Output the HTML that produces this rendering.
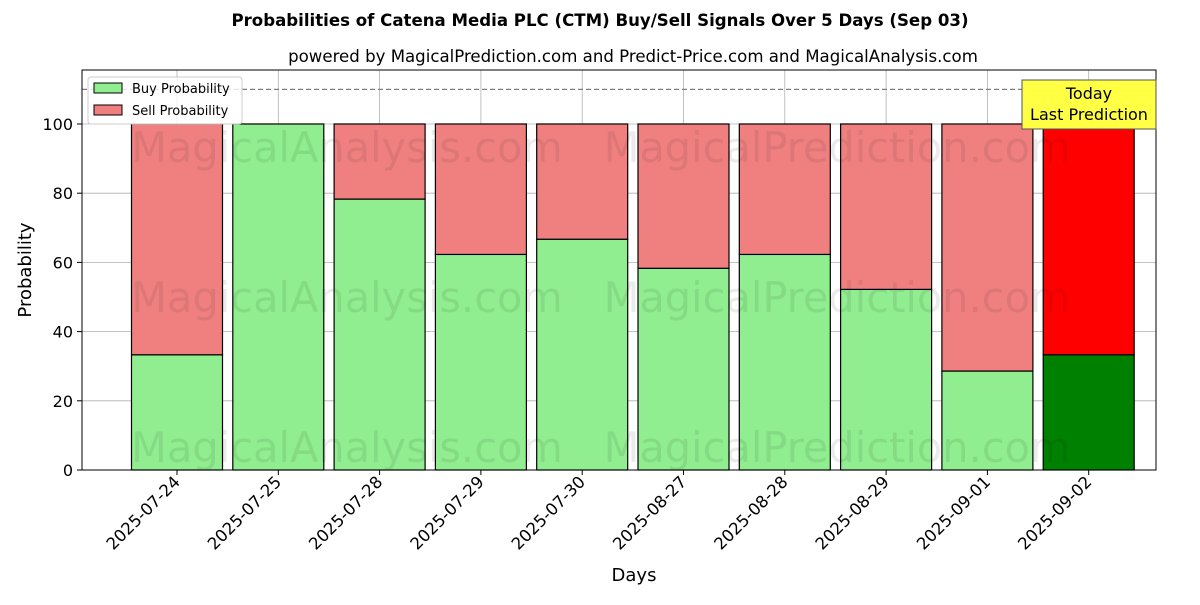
<!DOCTYPE html>
<html><head><meta charset="utf-8"><style>
body{margin:0;background:#fff;font-family:"Liberation Sans","DejaVu Sans",sans-serif}
</style></head><body>
<svg id="c" width="1200" height="600" xmlns="http://www.w3.org/2000/svg" font-family="DejaVu Sans, Liberation Sans, sans-serif">
<text x="600" y="26" text-anchor="middle" font-size="16.6" font-weight="bold">Probabilities of Catena Media PLC (CTM) Buy/Sell Signals Over 5 Days (Sep 03)</text>
<text x="633" y="62" text-anchor="middle" font-size="16.6">powered by MagicalPrediction.com and Predict-Price.com and MagicalAnalysis.com</text>
<g id="grid"></g><g id="bars"></g>
<g font-size="41.5" fill="#000" fill-opacity="0.08">
<text x="347" y="162" text-anchor="middle">MagicalAnalysis.com</text>
<text x="837" y="162" text-anchor="middle">MagicalPrediction.com</text>
<text x="347" y="312" text-anchor="middle">MagicalAnalysis.com</text>
<text x="837" y="312" text-anchor="middle">MagicalPrediction.com</text>
<text x="347" y="462" text-anchor="middle">MagicalAnalysis.com</text>
<text x="837" y="462" text-anchor="middle">MagicalPrediction.com</text>
</g>
<g id="axes"></g>
<text x="634" y="581" text-anchor="middle" font-size="18">Days</text>
<text transform="translate(31,270) rotate(-90)" text-anchor="middle" font-size="18">Probability</text>
<g>
<rect x="88" y="77" width="154" height="47" fill="#fff" fill-opacity="0.8" stroke="#ccc" rx="3"/>
<rect x="94" y="83" width="28" height="10" fill="#90ee90" stroke="#000"/>
<text x="132" y="93" font-size="13">Buy Probability</text>
<rect x="94" y="105" width="28" height="10" fill="#f08080" stroke="#000"/>
<text x="132" y="115" font-size="13">Sell Probability</text>
</g>
<g>
<rect x="1022" y="80" width="134" height="49" fill="#ffff44" stroke="#555"/>
<text x="1089" y="99" text-anchor="middle" font-size="16">Today</text>
<text x="1089" y="120" text-anchor="middle" font-size="16">Last Prediction</text>
</g>
</svg>
<script>
const categories=["2025-07-24","2025-07-25","2025-07-28","2025-07-29","2025-07-30","2025-08-27","2025-08-28","2025-08-29","2025-09-01","2025-09-02"];
const buyValues=[33.3,100,78.3,62.3,66.7,58.3,62.3,52.2,28.6,33.3];
const sellValues=[66.7,0,21.7,37.7,33.3,41.7,37.7,47.8,71.4,66.7];
const yTicks=[0,20,40,60,80,100];
const NS="http://www.w3.org/2000/svg";
const L=82,R=1156,T=70,B=470;
const yMax=115.6;
const y=v=>B-(v/yMax)*(B-T);
const x=i=>177+i*101.3;
const bw=91;
function mk(tag,a,p){const e=document.createElementNS(NS,tag);for(const k in a)e.setAttribute(k,a[k]);p.appendChild(e);return e;}
const g=document.getElementById('grid'),bars=document.getElementById('bars'),ax=document.getElementById('axes');
yTicks.forEach(t=>{
 const l=mk('line',{x1:L,x2:R,y1:y(t),y2:y(t),stroke:'#b0b0b0','stroke-width':0.8},g);
 
 
 mk('line',{x1:L-5,x2:L,y1:y(t),y2:y(t),stroke:'#000'},ax);
 const tx=mk('text',{x:L-9,y:y(t)+6,'text-anchor':'end','font-size':16},ax);tx.textContent=t;
 
 
});
categories.forEach((c,i)=>{
 const l=mk('line',{x1:x(i),x2:x(i),y1:T,y2:B,stroke:'#b0b0b0','stroke-width':0.8},g);
 
 
 const last=i===categories.length-1;
 const b=mk('rect',{x:x(i)-bw/2,y:y(buyValues[i]),width:bw,height:y(0)-y(buyValues[i]),fill:last?'#008000':'#90ee90',stroke:'#000','stroke-width':1.2},bars);
 
 
 const s=mk('rect',{x:x(i)-bw/2,y:y(buyValues[i]+sellValues[i]),width:bw,height:y(buyValues[i])-y(buyValues[i]+sellValues[i]),fill:last?'#ff0000':'#f08080',stroke:'#000','stroke-width':1.2},bars);
 
 
 mk('line',{x1:x(i),x2:x(i),y1:B,y2:B+5,stroke:'#000'},ax);
 const tx=mk('text',{transform:`translate(${x(i)+4},${B+13}) rotate(-45)`,'text-anchor':'end','font-size':16.5},ax);tx.textContent=c;
 
 
});
const d=mk('line',{x1:L,x2:R,y1:y(110),y2:y(110),stroke:'#808080','stroke-dasharray':'5,3','stroke-width':1.2},ax);


const f=mk('rect',{x:L,y:T,width:R-L,height:B-T,fill:'none',stroke:'#000','stroke-width':1},ax);


</script>
</body></html>
